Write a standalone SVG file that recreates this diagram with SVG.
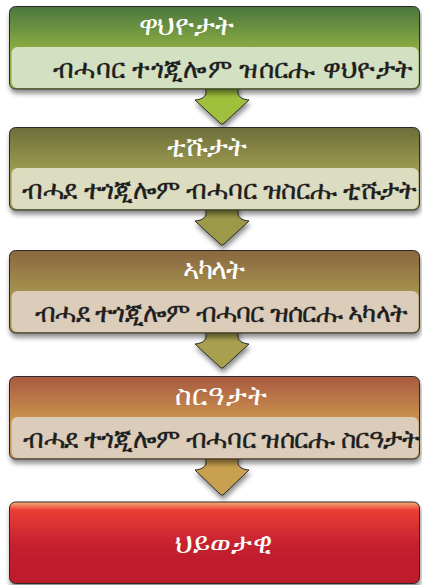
<svg xmlns="http://www.w3.org/2000/svg" width="422" height="585" viewBox="0 0 422 585">
<defs>
<filter id="sh" x="-10%" y="-20%" width="120%" height="150%">
<feDropShadow dx="1" dy="4" stdDeviation="2.5" flood-color="#000" flood-opacity="0.45"/>
</filter>
<linearGradient id="g1" x1="0" y1="0" x2="0" y2="1">
<stop offset="0" stop-color="#4b7640"/><stop offset="0.5" stop-color="#8aab42"/><stop offset="1" stop-color="#8aab42"/>
</linearGradient>
<linearGradient id="g2" x1="0" y1="0" x2="0" y2="1">
<stop offset="0" stop-color="#6c6e3a"/><stop offset="0.5" stop-color="#9c9a50"/><stop offset="1" stop-color="#9c9a50"/>
</linearGradient>
<linearGradient id="g3" x1="0" y1="0" x2="0" y2="1">
<stop offset="0" stop-color="#8a6640"/><stop offset="0.5" stop-color="#a5924e"/><stop offset="1" stop-color="#a5924e"/>
</linearGradient>
<linearGradient id="g4" x1="0" y1="0" x2="0" y2="1">
<stop offset="0" stop-color="#a95a40"/><stop offset="0.5" stop-color="#c8904e"/><stop offset="1" stop-color="#c8904e"/>
</linearGradient>
<linearGradient id="g5" x1="0" y1="0" x2="0" y2="1">
<stop offset="0" stop-color="#f6b070"/><stop offset="0.1" stop-color="#ea3d36"/><stop offset="0.55" stop-color="#c4202e"/><stop offset="1" stop-color="#bc1c2c"/>
</linearGradient>
</defs>
<style>
.box{stroke:#2a2a2a;stroke-width:1}
.bar{stroke:none}
.hd{font-family:"Noto Sans","DejaVu Sans",sans-serif;font-size:28px;fill:#fff;text-anchor:middle}
.sb{font-family:"Noto Sans","DejaVu Sans",sans-serif;font-size:26px;fill:#1e1e1e;stroke:#1e1e1e;stroke-width:0.3;text-anchor:middle}
.arr{stroke:#2a2a2a;stroke-width:1}
</style>
<g id="connectors">
<path class="arr" filter="url(#sh)" fill="#9ec03c" d="M204,86 L240,86 C236,92 237,99 249,100 L224,123 Q222,125.5 220,123 L195,100 C207,99 208,92 204,86 Z"/>
<path class="arr" filter="url(#sh)" fill="#9c9a48" d="M204,207 L240,207 C236,213 237,220 249,221 L224,244 Q222,246.5 220,244 L195,221 C207,220 208,213 204,207 Z"/>
<path class="arr" filter="url(#sh)" fill="#a8a050" d="M204,330 L240,330 C236,336 237,343 249,344 L224,367 Q222,369.5 220,367 L195,344 C207,343 208,336 204,330 Z"/>
<path class="arr" filter="url(#sh)" fill="#c9a050" d="M204,456 L240,456 C236,462 237,469 249,470 L224,494 Q222,496.5 220,494 L195,470 C207,469 208,462 204,456 Z"/>
</g>
<g id="n1">
<rect class="box" filter="url(#sh)" x="9.5" y="6.5" width="410" height="82.5" rx="6" fill="url(#g1)"/>
<rect class="bar" x="11.5" y="47" width="407" height="41" rx="6" fill="#d3e0c2"/>
<text class="hd" x="186" y="35" textLength="95">ዋህዮታት</text>
<text class="sb" x="233" y="78" textLength="360">ብሓባር ተጎጂሎም ዝሰርሑ ዋህዮታት</text>
</g>
<g id="n2">
<rect class="box" filter="url(#sh)" x="9.5" y="127.5" width="410" height="82.5" rx="6" fill="url(#g2)"/>
<rect class="bar" x="11.5" y="168" width="407" height="41" rx="6" fill="#dcdcc0"/>
<text class="hd" x="207" y="156" textLength="80">ቲሹታት</text>
<text class="sb" x="219.5" y="199" textLength="395">ብሓደ ተጎጂሎም ብሓባር ዝስርሑ ቲሹታት</text>
</g>
<g id="n3">
<rect class="box" filter="url(#sh)" x="9.5" y="250.5" width="410" height="82.5" rx="6" fill="url(#g3)"/>
<rect class="bar" x="11.5" y="291" width="407" height="41" rx="6" fill="#dccdbb"/>
<text class="hd" x="214" y="279" textLength="62">ኣካላት</text>
<text class="sb" x="221.5" y="322" textLength="373">ብሓደ ተጎጂሎም ብሓባር ዝሰርሑ ኣካላት</text>
</g>
<g id="n4">
<rect class="box" filter="url(#sh)" x="9.5" y="376.5" width="410" height="82.5" rx="6" fill="url(#g4)"/>
<rect class="bar" x="11.5" y="417" width="407" height="41" rx="6" fill="#dccdbb"/>
<text class="hd" x="221" y="405" textLength="92">ስርዓታት</text>
<text class="sb" x="221.5" y="448" textLength="397">ብሓደ ተጎጂሎም ብሓባር ዝሰርሑ ስርዓታት</text>
</g>
<g id="n5">
<rect class="box" filter="url(#sh)" x="9.5" y="502" width="410" height="81.5" rx="6" fill="url(#g5)"/>
<text class="hd" x="223" y="553" textLength="97">ህይወታዊ</text>
</g>
</svg>
